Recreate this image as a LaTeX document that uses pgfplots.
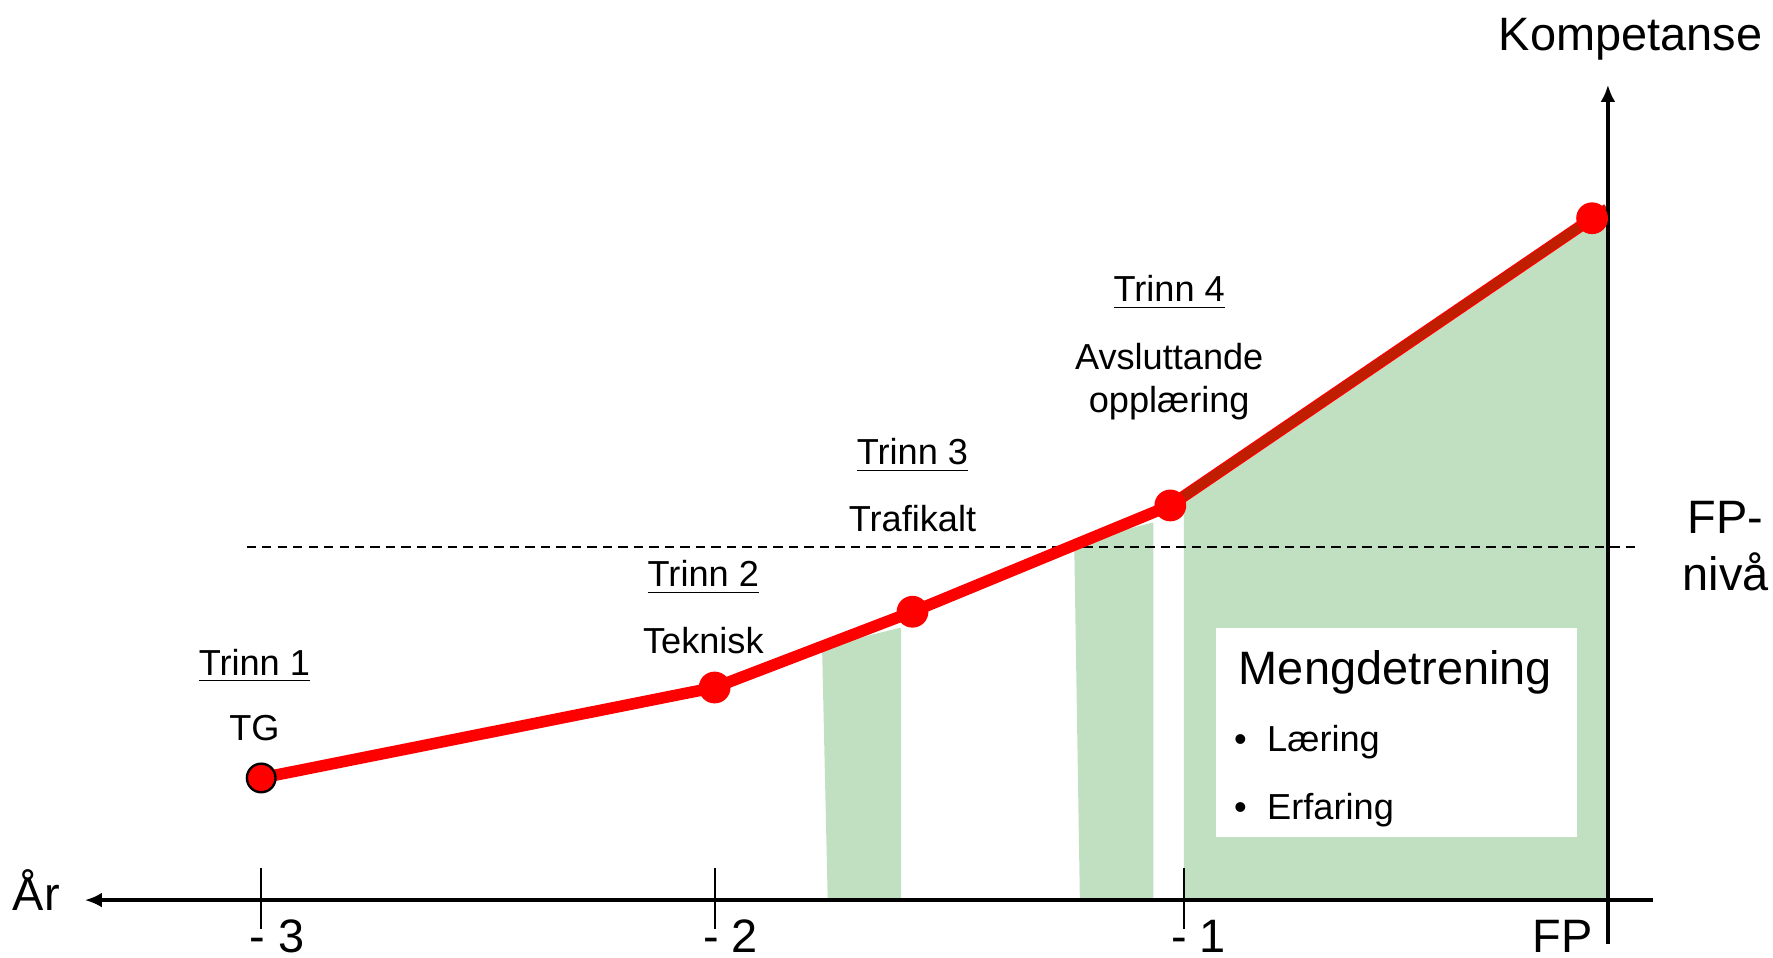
\documentclass[border=0pt]{standalone}
\usepackage{pgfplots}
\pgfplotsset{compat=1.18}
\usepackage{fontspec}
\setmainfont{Liberation Sans}
\usetikzlibrary{arrows.meta}

\definecolor{fillgreen}{RGB}{193,224,194}
\definecolor{linered}{RGB}{255,0,0}
\definecolor{darkline}{RGB}{192,30,0}

\newcommand{\bigtxt}{\fontsize{11.8}{14}\selectfont}
\newcommand{\midtxt}{\fontsize{9.1}{11}\selectfont}

\begin{document}
\begin{tikzpicture}
	\begin{axis}[
			scale only axis,
			width=156.8mm, height=84.7mm,
			xmin=0, xmax=1568,
			ymin=0, ymax=847,
			hide axis,
			clip=false
		]

		% usynlig ramme som holder bildets storleik
		\addplot[draw=none] coordinates {(0,0) (1568,0) (1568,847) (0,847)} -- cycle;

		% groenne felt (mengdetrening)
		\addplot[fill=fillgreen, draw=none] coordinates {
				(727,275) (797,292) (797,51) (732,51)
			} -- cycle;
		\addplot[fill=fillgreen, draw=none] coordinates {
				(950,367) (1020,385) (1020,51) (955,51)
			} -- cycle;
		\addplot[fill=fillgreen, draw=none] coordinates {
				(1047,404) (1422,660) (1422,51) (1047,51)
			} -- cycle;

		% FP-nivaa
		\addplot[black, line width=0.45pt, dash pattern=on 2.3pt off 1.6pt] coordinates {
				(218,363) (1450,363)
			};

		% boks
		\addplot[fill=white, draw=none] coordinates {
				(1075,292) (1395,292) (1395,107) (1075,107)
			} -- cycle;

		% kompetanselinje
		\addplot[linered, line width=2.9pt] coordinates {
				(231,159) (632,239) (807,306) (1035,400) (1408,654)
			};
		\addplot[only marks, mark=*, mark size=3.8pt, linered] coordinates {
				(1408,654)
			};
		\addplot[darkline, line width=2.3pt] coordinates {
				(1035,400) (1421,663)
			};
		\addplot[only marks, mark=*, mark size=3.8pt, linered] coordinates {
				(632,239) (807,306) (1035,400)
			};
		\addplot[only marks, mark=*, mark size=3.6pt, mark options={fill=linered, draw=black, line width=0.6pt}] coordinates {
				(231,159)
			};

		% akser
		\addplot[black, line width=0.85pt, -{Latex[length=1.5mm, width=1.3mm]}] coordinates {
				(1462,51) (75,51)
			};
		\addplot[black, line width=0.85pt, -{Latex[length=1.5mm, width=1.3mm]}] coordinates {
				(1422,12) (1422,772)
			};
		\addplot[black, line width=0.45pt] coordinates {(231,79) (231,25)};
		\addplot[black, line width=0.45pt] coordinates {(632,79) (632,25)};
		\addplot[black, line width=0.45pt] coordinates {(1047,79) (1047,25)};

		% tekst
		\node[anchor=base, font=\bigtxt, inner sep=0pt] at (axis cs:245,5) {- 3};
		\node[anchor=base, font=\bigtxt, inner sep=0pt] at (axis cs:646,5) {- 2};
		\node[anchor=base, font=\bigtxt, inner sep=0pt] at (axis cs:1060,5) {- 1};
		\node[anchor=base, font=\bigtxt, inner sep=0pt] at (axis cs:1382,5) {FP};
		\node[anchor=base, font=\bigtxt, inner sep=0pt] at (axis cs:32,42) {År};
		\node[anchor=base, font=\bigtxt, inner sep=0pt] at (axis cs:1442,802) {Kompetanse};
		\node[anchor=base, font=\bigtxt, inner sep=0pt] at (axis cs:1526,375) {FP-};
		\node[anchor=base, font=\bigtxt, inner sep=0pt] at (axis cs:1526,325) {nivå};

		\node[anchor=base, font=\midtxt] at (axis cs:225,250) {\underline{Trinn 1}};
		\node[anchor=base, font=\midtxt] at (axis cs:225,192) {TG};
		\node[anchor=base, font=\midtxt] at (axis cs:622,328) {\underline{Trinn 2}};
		\node[anchor=base, font=\midtxt] at (axis cs:622,269) {Teknisk};
		\node[anchor=base, font=\midtxt] at (axis cs:807,436) {\underline{Trinn 3}};
		\node[anchor=base, font=\midtxt] at (axis cs:807,377) {Trafikalt};
		\node[anchor=base, font=\midtxt] at (axis cs:1034,580) {\underline{Trinn 4}};
		\node[anchor=base, font=\midtxt] at (axis cs:1034,520) {Avsluttande};
		\node[anchor=base, font=\midtxt] at (axis cs:1034,482) {opplæring};

		\node[anchor=base, font=\bigtxt] at (axis cs:1234,242) {Mengdetrening};
		\node[anchor=base, font=\midtxt] at (axis cs:1097,182) {•};
		\node[anchor=base west, font=\midtxt, inner sep=0pt] at (axis cs:1120,182) {Læring};
		\node[anchor=base, font=\midtxt] at (axis cs:1097,122) {•};
		\node[anchor=base west, font=\midtxt, inner sep=0pt] at (axis cs:1120,122) {Erfaring};

	\end{axis}
\end{tikzpicture}
\end{document}
